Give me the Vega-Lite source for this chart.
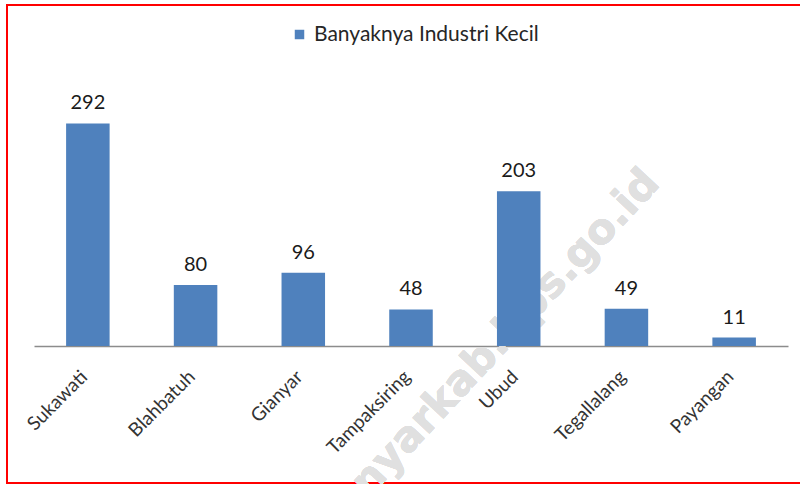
{
  "$schema": "https://vega.github.io/schema/vega-lite/v6.json",
  "autosize": "none",
  "padding": {"left": 7, "top": 5, "right": 0, "bottom": 1},
  "width": 796,
  "height": 478,
  "background": "white",
  "config": {
    "view": {"stroke": "#ff0000", "strokeWidth": 2},
    "font": "Lato"
  },
  "data": {
    "values": [
      {"kecamatan": "Sukawati", "jumlah": 292, "seri": "Banyaknya Industri Kecil"},
      {"kecamatan": "Blahbatuh", "jumlah": 80, "seri": "Banyaknya Industri Kecil"},
      {"kecamatan": "Gianyar", "jumlah": 96, "seri": "Banyaknya Industri Kecil"},
      {"kecamatan": "Tampaksiring", "jumlah": 48, "seri": "Banyaknya Industri Kecil"},
      {"kecamatan": "Ubud", "jumlah": 203, "seri": "Banyaknya Industri Kecil"},
      {"kecamatan": "Tegallalang", "jumlah": 49, "seri": "Banyaknya Industri Kecil"},
      {"kecamatan": "Payangan", "jumlah": 11, "seri": "Banyaknya Industri Kecil"}
    ]
  },
  "encoding": {
    "x": {
      "field": "kecamatan",
      "type": "nominal",
      "sort": null,
      "scale": {
        "domain": ["Sukawati", "Blahbatuh", "Gianyar", "Tampaksiring", "Ubud", "Tegallalang", "Payangan"],
        "range": [27, 781], "paddingInner": 0.596, "paddingOuter": 0.298
      },
      "axis": {
        "title": null,
        "orient": "bottom",
        "offset": -137,
        "ticks": false,
        "domainColor": "#8c8c8c",
        "domainWidth": 1.5,
        "labelAngle": -45,
        "labelAlign": "right",
        "labelBaseline": "top",
        "labelPadding": 21,
        "labelOffset": -10,
        "labelFont": "Lato",
        "labelFontSize": 19,
        "labelColor": "#333333"
      }
    },
    "y": {
      "field": "jumlah",
      "type": "quantitative",
      "scale": {"domain": [-179.8, 447.5], "nice": false, "zero": false},
      "axis": null
    }
  },
  "layer": [
    {
      "mark": {"type": "text", "font": "DejaVu Sans", "fontWeight": "bold", "fontSize": 42, "angle": 313, "color": "#e0e0e0", "align": "center", "baseline": "middle", "dx": -56},
      "encoding": {
        "x": {"datum": "Ubud"},
        "y": {"datum": 36},
        "text": {"value": "gianyarkab.bps.go.id"}
      }
    },
    {
      "mark": {"type": "bar", "color": "#4F81BD"},
      "encoding": {
        "y2": {"datum": 0},
        "color": {
          "field": "seri",
          "type": "nominal",
          "scale": {"range": ["#4F81BD"]},
          "legend": {
            "title": null,
            "orient": "none",
            "legendX": 282,
            "legendY": 19,
            "direction": "horizontal",
            "symbolType": "square",
            "symbolSize": 90,
            "symbolStrokeWidth": 0,
            "labelFont": "Lato",
            "labelFontSize": 21,
            "labelLimit": 0,
            "labelColor": "#262626",
            "padding": 0
          }
        }
      }
    },
    {
      "mark": {"type": "text", "baseline": "alphabetic", "dy": -14, "fontSize": 20, "font": "Lato", "color": "#1a1a1a"},
      "encoding": {
        "text": {"field": "jumlah", "type": "quantitative"}
      }
    }
  ]
}
